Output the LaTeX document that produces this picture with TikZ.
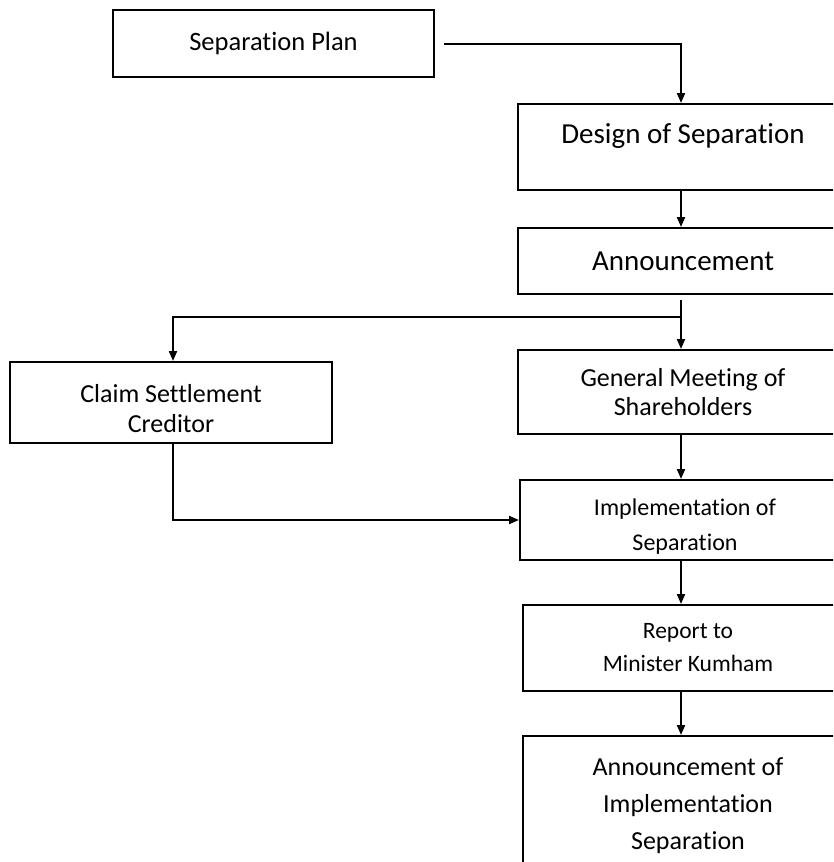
\documentclass[tikz,border=0pt]{standalone}
\usepackage{fontspec}
\setmainfont{Carlito}[Ligatures=NoCommon]
\usetikzlibrary{arrows.meta}
\newcommand{\fsz}[2]{\fontsize{#1}{#2}\selectfont}
\newcommand{\lift}[1]{\rule{0pt}{#1}}
\begin{document}
\begin{tikzpicture}[x=1pt, y=-1pt,
  every node/.style={align=center},
  stepbox/.style={draw=black, line width=2pt, inner sep=0pt},
  rightbox/.style={stepbox, minimum width=330},
  flow/.style={-{Triangle[length=10pt,width=8pt]}, line width=2pt}
]
\useasboundingbox (0,0) rectangle (833,862);
\clip (0,0) rectangle (833,862);
\fill[white] (0,0) rectangle (833,862);

\node[stepbox, minimum width=321, minimum height=67, font=\fsz{26.5}{32}] (plan) at (273.5,43.5) {Separation Plan};
\node[rightbox, minimum height=86, text height=20pt, text depth=28pt, font=\fsz{29}{35}] (design) at (683,147) {Design of Separation};
\node[rightbox, minimum height=66, font=\fsz{29}{35}] (announce) at (683,261) {Announcement};
\node[stepbox, minimum width=322, minimum height=81, font=\fsz{26}{30}] (claim) at (171,402.5) {\lift{31pt}Claim Settlement\\Creditor};
\node[rightbox, minimum height=84, font=\fsz{26}{29}] (meeting) at (683,392) {General Meeting of\\Shareholders};
\node[rightbox, minimum height=80, font=\fsz{24}{29}] (implement) at (685,520) {\lift{30pt}Implementation of\\[6pt]Separation};
\node[rightbox, minimum height=86, font=\fsz{23.5}{33}] (report) at (688,648) {Report to\\Minister Kumham};
\node[rightbox, minimum height=140, font=\fsz{26}{37}] (final) at (688,806) {Announcement of\\Implementation\\Separation};

% connectors
\coordinate (spine) at (681,0);
\coordinate (split) at (681,317);
\draw[flow, shorten <=9pt] (plan.east) -- (plan.east -| spine) -- (design.north -| spine);
\draw[flow] (design.south -| spine) -- (announce.north -| spine);
\draw[line width=2pt, shorten <=5pt] (announce.south -| spine) -- (split);
\draw[flow] (split) -- (meeting.north -| spine);
\draw[flow] (split) -| ([xshift=2pt]claim.north);
\draw[flow] (meeting.south -| spine) -- (implement.north -| spine);
\draw[flow] ([xshift=2pt]claim.south) |- (implement.west);
\draw[flow] (implement.south -| spine) -- (report.north -| spine);
\draw[flow] (report.south -| spine) -- (final.north -| spine);
\end{tikzpicture}
\end{document}
